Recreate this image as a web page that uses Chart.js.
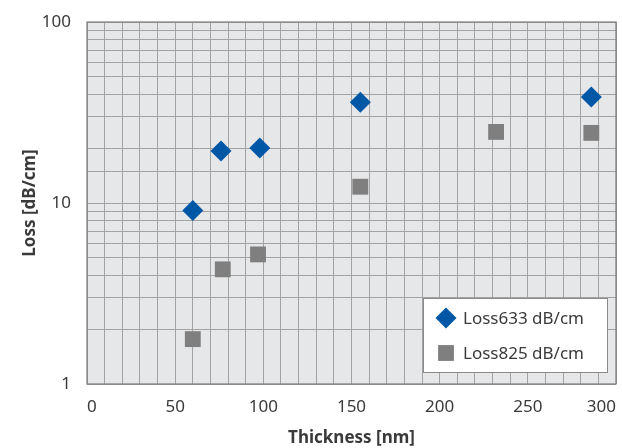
<!DOCTYPE html>
<html>
<head>
<meta charset="utf-8">
<script src="https://cdn.jsdelivr.net/npm/chart.js@4"></script>
<style>
  html, body { margin: 0; padding: 0; background: #ffffff; }
  #wrap { width: 622px; height: 448px; }
</style>
</head>
<body>
<div id="wrap"><canvas id="loss-chart" width="622" height="448"></canvas></div>
<script>
var thickness633 = [60, 76, 98, 155, 286];
var loss633 = [9.1, 19.4, 20.1, 36, 38.5];
var thickness825 = [60, 77, 97, 155, 232, 286];
var loss825 = [1.77, 4.3, 5.2, 12.3, 24.7, 24.4];
var seriesNames = ["Loss633 dB/cm", "Loss825 dB/cm"];
var xLabelEvery = 50;

var FONT = "'Noto Sans', 'Open Sans', sans-serif";

function toPoints(xs, ys) {
    var pts = [];
    for (var i = 0; i < xs.length; i++) {
        pts.push({x: xs[i], y: ys[i]});
    }
    return pts;
}

// grey plot background + darker frame
var plotBackground = {
    id: 'plotBackground',
    beforeDraw: function(chart) {
        var a = chart.chartArea, ctx = chart.ctx;
        ctx.save();
        ctx.fillStyle = '#e6e7e9';
        ctx.fillRect(a.left, a.top, a.right - a.left, a.bottom - a.top);
        ctx.restore();
    },
    afterDatasetsDraw: function(chart) {
        var a = chart.chartArea, ctx = chart.ctx;
        ctx.save();
        ctx.strokeStyle = '#7c7c7c';
        ctx.lineWidth = 1.2;
        ctx.strokeRect(a.left, a.top, a.right - a.left, a.bottom - a.top);
        ctx.restore();
    }
};

// legend box inside the plot, bottom right
var insideLegend = {
    id: 'insideLegend',
    afterDraw: function(chart) {
        var a = chart.chartArea, ctx = chart.ctx;
        var w = 185, h = 75;
        var x0 = a.right - 8 - w, y0 = a.bottom - 11 - h;
        ctx.save();
        ctx.fillStyle = '#ffffff';
        ctx.fillRect(x0, y0, w, h);
        ctx.strokeStyle = '#8a8a8a';
        ctx.lineWidth = 1;
        ctx.strokeRect(x0 + 0.5, y0 + 0.5, w - 1, h - 1);
        ctx.font = '17px ' + FONT;
        ctx.textBaseline = 'middle';
        chart.data.datasets.forEach(function(ds, i) {
            var cy = y0 + 20 + i * 35;
            ctx.fillStyle = ds.backgroundColor;
            ctx.strokeStyle = ds.backgroundColor;
            Chart.helpers.drawPoint(ctx, {pointStyle: ds.pointStyle, radius: ds.pointRadius, borderWidth: 0}, x0 + 23, cy);
            ctx.fillStyle = '#3a3a3a';
            ctx.fillText(seriesNames[i], x0 + 40, cy + 1);
        });
        ctx.restore();
    }
};

var LossChartConfig = {
    type: 'scatter',
    data: {
        datasets: [{
            label: seriesNames[0],
            data: toPoints(thickness633, loss633),
            pointStyle: 'rectRot',
            pointRadius: 10.5,
            pointHoverRadius: 10.5,
            backgroundColor: '#0057a6',
            borderColor: '#0057a6',
            borderWidth: 0
        },
        {
            label: seriesNames[1],
            data: toPoints(thickness825, loss825),
            pointStyle: 'rect',
            pointRadius: 11.2,
            pointHoverRadius: 11.2,
            backgroundColor: '#7f7f7f',
            borderColor: '#7f7f7f',
            borderWidth: 0
        }
        ]
    },
    options: {
        responsive: false,
        animation: false,
        layout: {autoPadding: false, padding: {top: 22, right: 6, left: 0, bottom: 0}},
        plugins: {
            legend: {display: false},
            tooltip: {enabled: false}
        },
        scales: {
            x: {
                type: 'linear',
                min: 0,
                max: 300,
                // invisible tick marks are used as the label gap
                grid: {color: '#a3a3a3', lineWidth: 1, drawTicks: true, tickLength: 13, tickColor: 'rgba(0,0,0,0)'},
                border: {display: false},
                ticks: {
                    stepSize: 10,
                    autoSkip: false,
                    maxRotation: 0,
                    align: 'inner',
                    padding: 0,
                    color: '#3a3a3a',
                    font: {family: FONT, size: 17},
                    callback: function(v) { return v % xLabelEvery === 0 ? String(v) : ''; }
                },
                title: {
                    display: true,
                    text: 'Thickness [nm]',
                    color: '#3a3a3a',
                    font: {family: FONT, size: 17, weight: 'bold'},
                    padding: {top: 0, bottom: 0}
                },
                afterFit: function(scale) {
                    scale.height = 64;
                }
            },
            y: {
                type: 'logarithmic',
                min: 1,
                max: 100,
                grid: {color: '#a3a3a3', lineWidth: 1, drawTicks: true, tickLength: 16, tickColor: 'rgba(0,0,0,0)'},
                border: {display: false},
                ticks: {
                    autoSkip: false,
                    padding: 0,
                    color: '#3a3a3a',
                    font: {family: FONT, size: 17},
                    callback: function(v) {
                        var l = Math.log10(v);
                        return Math.abs(l - Math.round(l)) < 1e-9 ? String(v) : '';
                    }
                },
                title: {
                    display: true,
                    text: 'Loss [dB/cm]',
                    color: '#3a3a3a',
                    font: {family: FONT, size: 17, weight: 'bold'},
                    padding: {top: 20, bottom: 0}
                },
                afterFit: function(scale) {
                    scale.width = 87;
                }
            }
        }
    },
    plugins: [plotBackground, insideLegend]
};
var LossChart = new Chart(document.getElementById("loss-chart").getContext('2d'), LossChartConfig);
</script>
</body>
</html>
